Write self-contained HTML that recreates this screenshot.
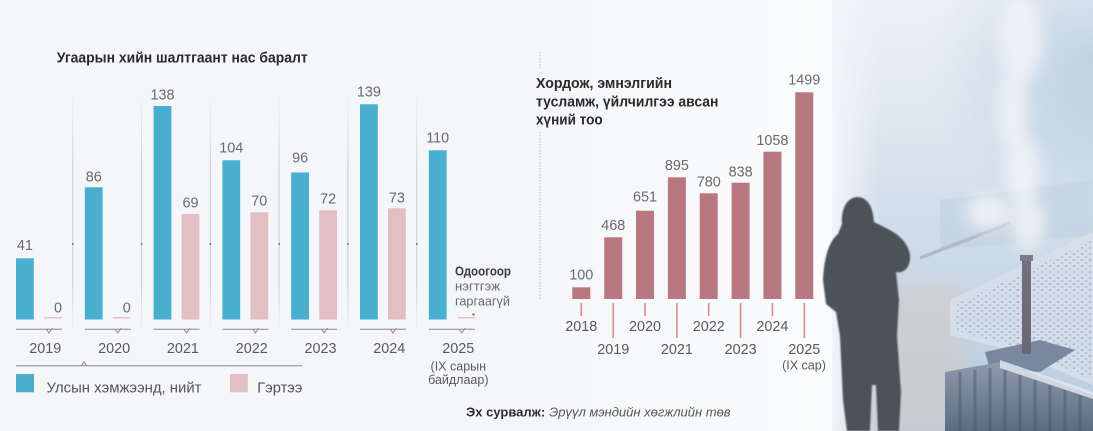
<!DOCTYPE html>
<html><head><meta charset="utf-8">
<style>
html,body{margin:0;padding:0;background:#f4f6f9;}
svg{display:block;font-family:"Liberation Sans","DejaVu Sans",sans-serif;}
</style></head>
<body>
<svg width="1093" height="431" viewBox="0 0 1093 431" xmlns="http://www.w3.org/2000/svg">
<defs>
  <linearGradient id="sep" x1="0" y1="0" x2="0" y2="1">
    <stop offset="0" stop-color="#c9cdd3" stop-opacity="0"/>
    <stop offset="0.3" stop-color="#c9cdd3" stop-opacity="1"/>
    <stop offset="0.8" stop-color="#c9cdd3" stop-opacity="1"/>
    <stop offset="1" stop-color="#c9cdd3" stop-opacity="0"/>
  </linearGradient>
  <linearGradient id="panel" x1="0" y1="0" x2="1" y2="0">
    <stop offset="0" stop-color="#f4f6f9"/>
    <stop offset="1" stop-color="#fbfcfd"/>
  </linearGradient>
  <linearGradient id="photo" x1="0" y1="0" x2="0" y2="1">
    <stop offset="0" stop-color="#e9eff5"/>
    <stop offset="0.3" stop-color="#d8e3ee"/>
    <stop offset="0.6" stop-color="#c8d7e6"/>
    <stop offset="1" stop-color="#b9c8d8"/>
  </linearGradient>
  <radialGradient id="topblue" gradientUnits="userSpaceOnUse" cx="1093" cy="60" r="170">
    <stop offset="0" stop-color="#9fb9d4" stop-opacity="1"/>
    <stop offset="0.5" stop-color="#b3c8de" stop-opacity="0.75"/>
    <stop offset="1" stop-color="#c8d7e6" stop-opacity="0"/>
  </radialGradient>
  <linearGradient id="fence" x1="0" y1="0" x2="0" y2="1">
    <stop offset="0" stop-color="#8592a5"/>
    <stop offset="1" stop-color="#56647a"/>
  </linearGradient>
  <linearGradient id="leftfog" x1="0" y1="0" x2="1" y2="0">
    <stop offset="0" stop-color="#f2f5f8" stop-opacity="1"/>
    <stop offset="1" stop-color="#f2f5f8" stop-opacity="0"/>
  </linearGradient>
  <linearGradient id="haze" x1="0" y1="0" x2="0" y2="1">
    <stop offset="0" stop-color="#eef2f6" stop-opacity="0.55"/>
    <stop offset="0.45" stop-color="#e3e9f0" stop-opacity="0.2"/>
    <stop offset="1" stop-color="#dfe5ec" stop-opacity="0.05"/>
  </linearGradient>
  <pattern id="dots" width="8" height="6" patternUnits="userSpaceOnUse">
    <ellipse cx="2" cy="2" rx="1.5" ry="0.9" fill="#6f86a2" opacity="0.7"/>
    <ellipse cx="6" cy="5" rx="1.3" ry="0.8" fill="#6f86a2" opacity="0.6"/>
  </pattern>
  <filter id="blur6" filterUnits="userSpaceOnUse" x="780" y="-100" width="420" height="600"><feGaussianBlur stdDeviation="7"/></filter>
  <filter id="blur1" filterUnits="userSpaceOnUse" x="780" y="0" width="420" height="500"><feGaussianBlur stdDeviation="0.8"/></filter>
  <clipPath id="photoclip"><rect x="832" y="0" width="261" height="431"/></clipPath>
</defs>

<rect x="0" y="0" width="1093" height="431" fill="#f4f6f9"/>
<rect x="525" y="0" width="310" height="431" fill="url(#panel)"/>

<!-- ===== PHOTO ===== -->
<g clip-path="url(#photoclip)">
  <rect x="832" y="0" width="261" height="431" fill="url(#photo)"/>
  <rect x="880" y="0" width="213" height="260" fill="url(#topblue)"/>
  <!-- building band -->
  <polygon points="940,200 1093,180 1093,235 940,250" fill="#bccddf" opacity="0.7" filter="url(#blur1)"/>
  <!-- lower left beige ground -->
  <rect x="832" y="285" width="130" height="146" fill="#cacbc9" opacity="0.75" filter="url(#blur6)"/>
  <!-- snow roof -->
  <polygon points="950,300 1093,232 1093,385 1010,350 950,335" fill="#d3dde9"/>
  <polygon points="955,305 1093,240 1093,380 1012,346 955,330" fill="url(#dots)" opacity="0.8"/>
  <!-- chimney base -->
  <polygon points="985,352 1040,340 1075,350 1040,372 990,370" fill="#6e7e96"/>
  <!-- fence -->
  <polygon points="945,372 1000,362 1093,395 1093,431 945,431" fill="url(#fence)"/>
  <polygon points="1000,360 1093,392 1093,399 1000,368" fill="#e3eaf2" opacity="0.8"/>
  <g stroke="#3f4a5c" stroke-width="3" opacity="0.45">
    <line x1="960" y1="372" x2="960" y2="431"/><line x1="975" y1="370" x2="975" y2="431"/>
    <line x1="990" y1="368" x2="990" y2="431"/><line x1="1005" y1="370" x2="1005" y2="431"/>
    <line x1="1020" y1="375" x2="1020" y2="431"/><line x1="1035" y1="380" x2="1035" y2="431"/>
    <line x1="1050" y1="385" x2="1050" y2="431"/><line x1="1065" y1="390" x2="1065" y2="431"/>
    <line x1="1080" y1="395" x2="1080" y2="431"/>
  </g>
  <!-- pipe diagonal -->
  <line x1="920" y1="258" x2="1010" y2="223" stroke="#a7b2bd" stroke-width="3.5"/>
  <!-- smoke -->
  <g fill="#f3f6f9" filter="url(#blur6)" opacity="0.85">
    <ellipse cx="1020" cy="40" rx="22" ry="45"/>
    <ellipse cx="1012" cy="110" rx="16" ry="40"/>
    <ellipse cx="1022" cy="170" rx="18" ry="35"/>
    <ellipse cx="1028" cy="222" rx="16" ry="28"/>
    <ellipse cx="988" cy="212" rx="22" ry="18"/>
  </g>
  <!-- chimney -->
  <rect x="1022" y="258" width="9" height="96" fill="#5e5a68"/>
  <rect x="1020" y="255" width="13" height="6" fill="#6b6674"/>
  <!-- haze overlay -->
  <rect x="832" y="0" width="261" height="431" fill="url(#haze)"/>
  <rect x="832" y="0" width="50" height="431" fill="url(#leftfog)"/>
</g>
<!-- person (not clipped) -->
<path d="M857 197 C846 198 841 210 842 224 L838 234 C828 242 824 260 823 280 L826 304 L836 312 L840 336 L843 400 L847 431 L870 431 L872 385 L876 385 L878 431 L899 431 L901 392 L897 336 L899 300 L896 272 C903 274 911 268 910 255 C908 241 896 233 886 228 L874 222 C873 206 867 197 857 197 Z" fill="#4c5359" filter="url(#blur1)"/>

<!-- ===== LEFT CHART ===== -->
<text x="56.7" y="62.5" font-size="14.5" font-weight="bold" fill="#2a2a2a" textLength="251" lengthAdjust="spacingAndGlyphs">Угаарын хийн шалтгаант нас баралт</text>

<g fill="url(#sep)">
  <rect x="72.2" y="93" width="1" height="240"/>
  <rect x="141" y="93" width="1" height="240"/>
  <rect x="209.8" y="93" width="1" height="240"/>
  <rect x="278.6" y="93" width="1" height="240"/>
  <rect x="347.4" y="93" width="1" height="240"/>
  <rect x="416.2" y="93" width="1" height="240"/>
</g>
<g fill="#777">
  <rect x="72" y="243" width="1.5" height="2"/><rect x="140.8" y="243" width="1.5" height="2"/>
  <rect x="209.6" y="243" width="1.5" height="2"/><rect x="278.4" y="243" width="1.5" height="2"/>
  <rect x="347.2" y="243" width="1.5" height="2"/><rect x="416" y="243" width="1.5" height="2"/>
</g>

<g fill="#49afd1">
  <rect x="16" y="258.3" width="17.8" height="61.2"/>
  <rect x="84.8" y="187.3" width="17.8" height="132.2"/>
  <rect x="153.6" y="106" width="17.8" height="213.5"/>
  <rect x="222.4" y="160.3" width="17.8" height="159.2"/>
  <rect x="291.2" y="172.5" width="17.8" height="147"/>
  <rect x="360" y="104.3" width="17.8" height="215.2"/>
  <rect x="428.8" y="150.3" width="17.8" height="169.2"/>
</g>
<g fill="#e1bfc3">
  <rect x="181.6" y="214" width="17.8" height="105.5"/>
  <rect x="250.4" y="212.3" width="17.8" height="107.2"/>
  <rect x="319.2" y="210.3" width="17.8" height="109.2"/>
  <rect x="388" y="208.3" width="17.8" height="111.2"/>
</g>
<g stroke="#e6c2c6" stroke-width="1.5">
  <line x1="44" y1="317.8" x2="62" y2="317.8"/>
  <line x1="112.8" y1="317.8" x2="130.8" y2="317.8"/>
  <line x1="458" y1="317.8" x2="475" y2="317.8"/>
</g>
<circle cx="473.5" cy="314.5" r="1.2" fill="#e0475a"/>

<g font-size="14.4" fill="#6a6a6a" text-anchor="middle">
  <text x="24.9" y="250">41</text>
  <text x="93.7" y="181.7">86</text>
  <text x="162.5" y="99.3">138</text>
  <text x="231.3" y="152.7">104</text>
  <text x="300.1" y="162.7">96</text>
  <text x="368.9" y="96.7">139</text>
  <text x="437.7" y="142.3">110</text>
  <text x="190.5" y="207.7">69</text>
  <text x="259.3" y="205.7">70</text>
  <text x="328.1" y="203.3">72</text>
  <text x="396.9" y="202.7">73</text>
</g>
<g font-size="14.4" fill="#6a6a6a" text-anchor="end">
  <text x="62" y="312.7">0</text>
  <text x="130.8" y="312.7">0</text>
</g>

<g stroke="#8a8a8a" stroke-width="1">
  <line x1="16" y1="329.3" x2="62" y2="329.3"/>
  <line x1="84.8" y1="329.3" x2="130.8" y2="329.3"/>
  <line x1="153.6" y1="329.3" x2="199.6" y2="329.3"/>
  <line x1="222.4" y1="329.3" x2="268.4" y2="329.3"/>
  <line x1="291.2" y1="329.3" x2="337.2" y2="329.3"/>
  <line x1="360" y1="329.3" x2="406" y2="329.3"/>
  <line x1="428.8" y1="329.3" x2="474.8" y2="329.3"/>
  <line x1="16" y1="365.7" x2="302" y2="365.7"/>
</g>
<g stroke="#b07c84" stroke-width="1" fill="none">
  <polyline points="46.5,329.3 49,333 52.5,328"/>
  <polyline points="115.3,329.3 117.8,333 121.3,328"/>
  <polyline points="184.1,329.3 186.6,333 190.1,328"/>
  <polyline points="252.9,329.3 255.4,333 258.9,328"/>
  <polyline points="321.7,329.3 324.2,333 327.7,328"/>
  <polyline points="390.5,329.3 393,333 396.5,328"/>
  <polyline points="459.3,329.3 461.8,333 465.3,328"/>
  <polyline points="81.5,365.7 84,362 86.5,365.7"/>
</g>

<g font-size="14.4" fill="#5a5a5a" text-anchor="middle">
  <text x="45.3" y="353">2019</text>
  <text x="114.1" y="353">2020</text>
  <text x="182.9" y="353">2021</text>
  <text x="251.7" y="353">2022</text>
  <text x="320.5" y="353">2023</text>
  <text x="389.3" y="353">2024</text>
  <text x="458.3" y="353">2025</text>
</g>
<g font-size="12.5" fill="#5a5a5a" text-anchor="middle">
  <text x="458.3" y="370.5">(IX сарын</text>
  <text x="458.3" y="384">байдлаар)</text>
</g>

<text x="455" y="275.5" font-size="12.5" font-weight="bold" fill="#3a3a3a" textLength="56" lengthAdjust="spacingAndGlyphs">Одоогоор</text>
<text x="455" y="290.5" font-size="12.5" fill="#6a6a6a" textLength="45" lengthAdjust="spacingAndGlyphs">нэгтгэж</text>
<text x="455" y="305.5" font-size="12.5" fill="#6a6a6a" textLength="55" lengthAdjust="spacingAndGlyphs">гаргаагүй</text>

<rect x="16" y="374" width="18" height="18.3" fill="#49afd1"/>
<text x="46.5" y="392.5" font-size="15" fill="#555" textLength="155" lengthAdjust="spacingAndGlyphs">Улсын хэмжээнд,  нийт</text>
<rect x="230" y="374" width="17.8" height="18.3" fill="#e1bfc3"/>
<text x="257.3" y="392.5" font-size="15" fill="#555" textLength="45" lengthAdjust="spacingAndGlyphs">Гэртээ</text>

<text x="466" y="416.5" font-size="13" fill="#2e2e2e"><tspan font-weight="bold">Эх сурвалж:</tspan><tspan font-style="italic" fill="#555" dx="4">Эрүүл мэндийн хөгжлийн төв</tspan></text>

<!-- ===== RIGHT CHART ===== -->
<g stroke="#b5b8bd" stroke-width="1" stroke-dasharray="1.5,1.5">
  <line x1="540" y1="52" x2="540" y2="68"/>
  <line x1="540" y1="132" x2="540" y2="300"/>
</g>
<g font-size="14.5" font-weight="bold" fill="#2a2a2a">
  <text x="536" y="88" textLength="136" lengthAdjust="spacingAndGlyphs">Хордож, эмнэлгийн</text>
  <text x="536" y="106.3" textLength="182.5" lengthAdjust="spacingAndGlyphs">тусламж, үйлчилгээ авсан</text>
  <text x="536" y="124.3" textLength="66.7" lengthAdjust="spacingAndGlyphs">хүний тоо</text>
</g>

<g fill="#b9777f">
  <rect x="572.3" y="287.3" width="18" height="11.7"/>
  <rect x="604.2" y="237.3" width="18" height="61.7"/>
  <rect x="636" y="210.7" width="18" height="88.3"/>
  <rect x="667.9" y="177.3" width="18" height="121.7"/>
  <rect x="699.7" y="193.3" width="18" height="105.7"/>
  <rect x="731.6" y="182.7" width="18" height="116.3"/>
  <rect x="763.4" y="151.7" width="18" height="147.3"/>
  <rect x="795.3" y="92.3" width="18" height="206.7"/>
</g>
<g font-size="14.4" fill="#6a6a6a" text-anchor="middle">
  <text x="581.3" y="279.3">100</text>
  <text x="613.2" y="230">468</text>
  <text x="645" y="201.7">651</text>
  <text x="676.9" y="170">895</text>
  <text x="708.7" y="186.7">780</text>
  <text x="740.6" y="176.7">838</text>
  <text x="772.4" y="145">1058</text>
  <text x="804.3" y="84.3">1499</text>
</g>
<g stroke="#e4858f" stroke-width="1.6">
  <line x1="581.3" y1="303" x2="581.3" y2="316"/>
  <line x1="613.2" y1="303" x2="613.2" y2="338"/>
  <line x1="645" y1="303" x2="645" y2="316"/>
  <line x1="676.9" y1="303" x2="676.9" y2="338"/>
  <line x1="708.7" y1="303" x2="708.7" y2="316"/>
  <line x1="740.6" y1="303" x2="740.6" y2="338"/>
  <line x1="772.4" y1="303" x2="772.4" y2="316"/>
  <line x1="804.3" y1="303" x2="804.3" y2="338"/>
</g>
<g font-size="14.4" fill="#5a5a5a" text-anchor="middle">
  <text x="581.3" y="331">2018</text>
  <text x="613.2" y="354">2019</text>
  <text x="645" y="331">2020</text>
  <text x="676.9" y="354">2021</text>
  <text x="708.7" y="331">2022</text>
  <text x="740.6" y="354">2023</text>
  <text x="772.4" y="331">2024</text>
  <text x="804.3" y="354">2025</text>
</g>
<text x="804" y="369.5" font-size="12.5" fill="#5a5a5a" text-anchor="middle">(IX сар)</text>
</svg>
</body></html>
